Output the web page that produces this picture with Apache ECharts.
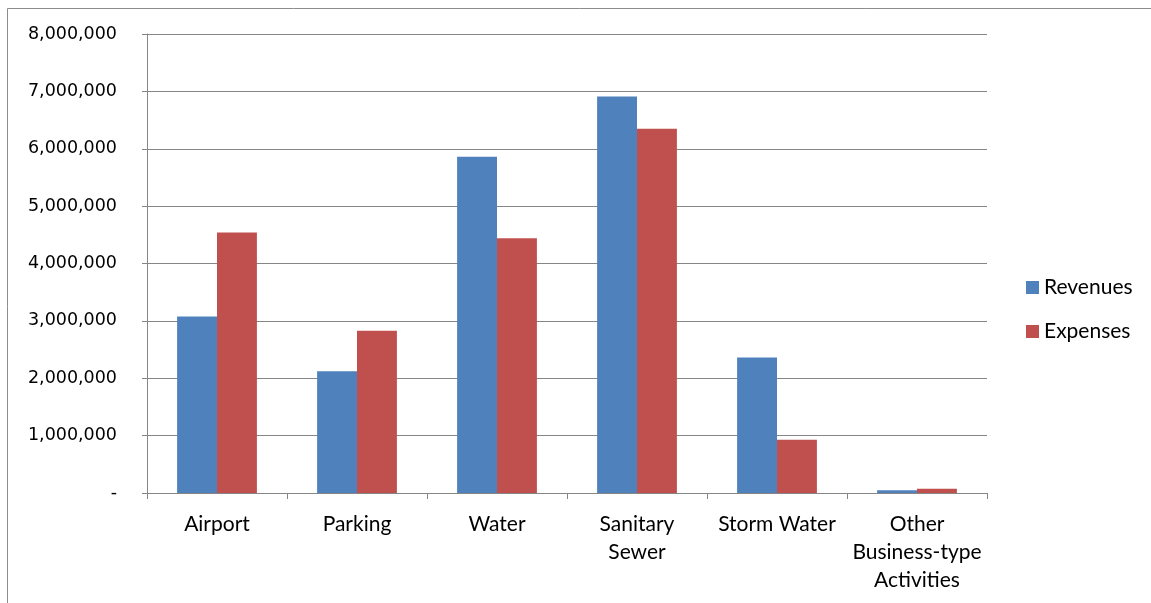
<!DOCTYPE html>
<html><head><meta charset="utf-8">
<script src="https://cdn.jsdelivr.net/npm/echarts@6/dist/echarts.min.js"></script>
<style>html,body{margin:0;padding:0;background:#fff}#c{width:1151px;height:603px}</style>
</head><body><div id="c"></div>
<script>
const categories = ['Airport','Parking','Water','Sanitary Sewer','Storm Water','Other Business-type Activities'];
const tickLabels = ['Airport','Parking','Water','Sanitary\nSewer','Storm Water','Other\nBusiness-type\nActivities'];
const revenues = [3076000, 2120000, 5860000, 6910000, 2360000, 47000];
const expenses = [4540000, 2830000, 4440000, 6350000, 930000, 76000];

const chart = echarts.init(document.getElementById('c'));
const lblFont = 'Lato, "Liberation Sans", sans-serif';
chart.setOption({
  animation: false,
  graphic: [{type:'rect', shape:{x:7.5,y:8.5,width:1160,height:620}, style:{fill:'none', stroke:'#8c8c8c', lineWidth:1}, silent:true}],
  grid: {left:147, right:164, top:34, bottom:110},
  legend: {
    orient:'vertical', left:1026, top:277, padding:0, itemWidth:13, itemHeight:13, itemGap:23, itemTextGap:6,
    icon:'rect',
    textStyle:{fontFamily:lblFont, fontSize:21, lineHeight:20, color:'#000'},
    data:['Revenues','Expenses']
  },
  xAxis: {
    type:'category', data:categories,
    axisLine:{lineStyle:{color:'#868686', width:1}},
    axisTick:{show:true, length:6, lineStyle:{color:'#868686'}},
    axisLabel:{interval:0, margin:17, fontFamily:lblFont, fontSize:21, color:'#000', lineHeight:28,
      formatter:(v,i)=>tickLabels[i]}
  },
  yAxis: {
    type:'value', min:0, max:8000000, interval:1000000,
    axisLine:{show:true, lineStyle:{color:'#868686', width:1}},
    axisTick:{show:true, length:5, lineStyle:{color:'#868686'}},
    splitLine:{lineStyle:{color:'#868686', width:1}},
    axisLabel:{margin:30, fontFamily:'"DejaVu Sans", sans-serif', fontSize:17.5, color:'#000',
      formatter:v=> v===0 ? '{z|-}' : v.toLocaleString('en-US'),
      rich:{z:{fontFamily:'"DejaVu Sans", sans-serif', fontSize:17.5, color:'#000', padding:[0,0,0,0], align:'right', width:4}}}
  },
  series: [
    {name:'Revenues', type:'bar', data:revenues, barGap:'0%', barCategoryGap:'43%',
     itemStyle:{color:'#4F81BD'}},
    {name:'Expenses', type:'bar', data:expenses, barGap:'0%', barCategoryGap:'43%',
     itemStyle:{color:'#C0504D'}}
  ]
});
</script></body></html>
